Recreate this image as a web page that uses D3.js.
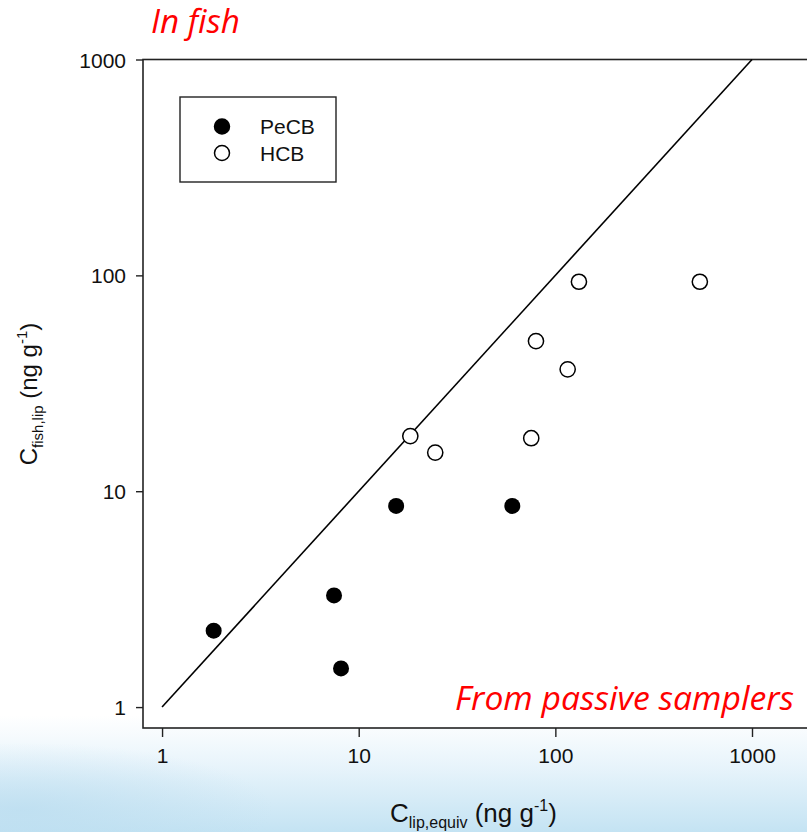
<!DOCTYPE html>
<html lang="en">
  <head>
    <meta charset="utf-8">
    <title>Fish vs passive samplers</title>
    <script src="https://cdn.jsdelivr.net/npm/d3@7"></script>
    <style type="text/css">
      body { margin: 0; padding: 0; }
      svg { display: block; }
    </style>
  </head>
  <body>
    <script type="text/javascript">
    //Width and height
    var w = 807;
    var h = 832;

    // data (ng/g, lipid based)
    var pecbX = [1.83, 7.49, 8.13, 15.5, 60.4];
    var pecbY = [2.26, 3.29, 1.51, 8.55, 8.55];
    var hcbX = [18.3, 24.5, 75.4, 79.7, 115.5, 131.8, 543];
    var hcbY = [18.0, 15.1, 17.6, 49.6, 36.7, 93.4, 93.4];
    var tickValues = [1, 10, 100, 1000];
    var oneToOne = [1, 1000];
    var seriesNames = ["PeCB", "HCB"];

    var font = "'Liberation Sans', Arial, sans-serif";

    var x = d3.scaleLog().domain([0.8, 2000]).range([143, 811.2]);
    var y = d3.scaleLog().domain([0.8, 1000]).range([728, 59.5]);

    var svg = d3.select("body")
                .append("svg")
                .attr("width", w)
                .attr("height", h);

    // slide background: white fading into light blue at the bottom
    var defs = svg.append("defs");
    var lg = defs.append("linearGradient")
                 .attr("id", "bg")
                 .attr("x1", 0).attr("y1", 0).attr("x2", 0).attr("y2", 1);
    lg.append("stop").attr("offset", "0.86").attr("stop-color", "#ffffff");
    lg.append("stop").attr("offset", "0.92").attr("stop-color", "#e8f4fb");
    lg.append("stop").attr("offset", "1").attr("stop-color", "#c4e3f3");
    var rg = defs.append("radialGradient")
                 .attr("id", "blob")
                 .attr("cx", 0.05).attr("cy", 0.8).attr("r", 0.6);
    rg.append("stop").attr("offset", "0").attr("stop-color", "#b9dcef").attr("stop-opacity", 0.7);
    rg.append("stop").attr("offset", "1").attr("stop-color", "#b9dcef").attr("stop-opacity", 0);

    svg.append("rect").attr("width", w).attr("height", h).attr("fill", "url(#bg)");
    svg.append("rect").attr("x", 0).attr("y", 720).attr("width", 420).attr("height", 112)
       .attr("fill", "url(#blob)");

    // plot area
    svg.append("rect")
       .attr("x", x(0.8)).attr("y", y(1000))
       .attr("width", x(2000) - x(0.8)).attr("height", y(0.8) - y(1000))
       .attr("fill", "white")
       .attr("stroke", "#222")
       .attr("stroke-width", 1.6);

    var xAxis = svg.append("g")
       .attr("transform", "translate(0," + y(0.8) + ")")
       .call(d3.axisBottom(x).tickValues(tickValues).tickFormat(d3.format("d"))
               .tickSize(9).tickSizeOuter(0).tickPadding(11));
    var yAxis = svg.append("g")
       .attr("transform", "translate(" + x(0.8) + ",0)")
       .call(d3.axisLeft(y).tickValues(tickValues).tickFormat(d3.format("d"))
               .tickSize(7).tickSizeOuter(0).tickPadding(10));

    [xAxis, yAxis].forEach(function(g) {
      g.select(".domain").remove();
      g.selectAll(".tick line").attr("stroke", "#222").attr("stroke-width", 1.4);
      g.selectAll(".tick text")
       .attr("font-family", font)
       .attr("font-size", "21px")
       .attr("fill", "#111");
    });
    yAxis.selectAll(".tick text").attr("dy", "0.36em");

    // 1:1 line
    svg.append("line")
       .attr("x1", x(oneToOne[0])).attr("y1", y(oneToOne[0]))
       .attr("x2", x(oneToOne[1])).attr("y2", y(oneToOne[1]))
       .attr("stroke", "black")
       .attr("stroke-width", 1.6);

    // points
    svg.selectAll("circle.pecb")
       .data(d3.zip(pecbX, pecbY))
       .enter()
       .append("circle")
       .attr("class", "pecb")
       .attr("cx", function(d) { return x(d[0]); })
       .attr("cy", function(d) { return y(d[1]); })
       .attr("r", 8)
       .attr("fill", "black");

    svg.selectAll("circle.hcb")
       .data(d3.zip(hcbX, hcbY))
       .enter()
       .append("circle")
       .attr("class", "hcb")
       .attr("cx", function(d) { return x(d[0]); })
       .attr("cy", function(d) { return y(d[1]); })
       .attr("r", 7.6)
       .attr("fill", "white")
       .attr("stroke", "black")
       .attr("stroke-width", 1.5);

    // legend
    var lgd = svg.append("g").attr("transform", "translate(180,97)");
    lgd.append("rect")
       .attr("width", 156).attr("height", 85)
       .attr("fill", "white")
       .attr("stroke", "#222")
       .attr("stroke-width", 1.4);
    seriesNames.forEach(function(name, i) {
      lgd.append("circle")
         .attr("cx", 42).attr("cy", 29.5 + i * 26.5)
         .attr("r", 7.5)
         .attr("fill", i == 0 ? "black" : "white")
         .attr("stroke", "black")
         .attr("stroke-width", 1.5);
      lgd.append("text")
         .attr("x", 80).attr("y", 37 + i * 26.5)
         .attr("font-family", font)
         .attr("font-size", "21px")
         .attr("fill", "#111")
         .text(name);
    });

    // red captions
    svg.append("text")
       .attr("x", 151).attr("y", 33)
       .attr("font-family", "'Open Sans', sans-serif")
       .attr("font-style", "italic")
       .attr("font-size", "32px")
       .attr("fill", "#ff0000")
       .attr("textLength", 89)
       .attr("lengthAdjust", "spacingAndGlyphs")
       .text("In fish");
    svg.append("text")
       .attr("x", 455).attr("y", 710)
       .attr("font-family", "'Open Sans', sans-serif")
       .attr("font-style", "italic")
       .attr("font-size", "32px")
       .attr("fill", "#ff0000")
       .attr("textLength", 339)
       .attr("lengthAdjust", "spacingAndGlyphs")
       .text("From passive samplers");

    // axis titles
    var xt = svg.append("text")
       .attr("x", 390).attr("y", 822)
       .attr("font-family", font)
       .attr("font-size", "26px")
       .attr("fill", "#111");
    xt.append("tspan").text("C");
    xt.append("tspan").attr("font-size", "16px").attr("dy", 6).text("lip,equiv");
    xt.append("tspan").attr("dy", -6).text(" (ng g");
    xt.append("tspan").attr("font-size", "16px").attr("dy", -11).text("-1");
    xt.append("tspan").attr("dy", 11).text(")");

    var yt = svg.append("text")
       .attr("transform", "translate(37,394) rotate(-90)")
       .attr("text-anchor", "middle")
       .attr("font-family", font)
       .attr("font-size", "24px")
       .attr("fill", "#111");
    yt.append("tspan").text("C");
    yt.append("tspan").attr("font-size", "15px").attr("dy", 6).text("fish,lip");
    yt.append("tspan").attr("dy", -6).text(" (ng g");
    yt.append("tspan").attr("font-size", "15px").attr("dy", -10).text("-1");
    yt.append("tspan").attr("dy", 10).text(")");
    </script>
  </body>
</html>
